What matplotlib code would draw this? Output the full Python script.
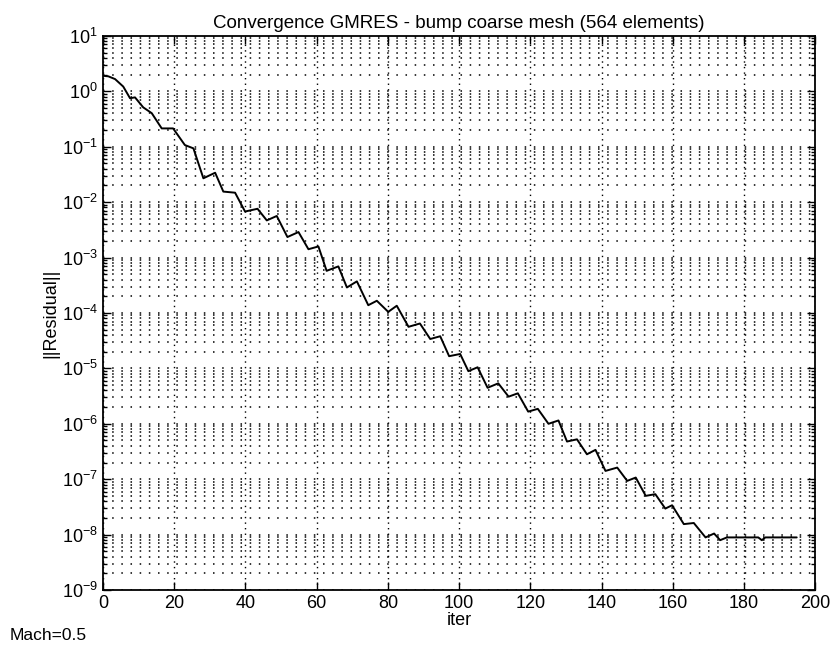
import numpy as np
import matplotlib
matplotlib.use("Agg")
import matplotlib.pyplot as plt
from matplotlib.ticker import LogLocator, FixedLocator, NullFormatter

plt.rcParams['font.family'] = ['Liberation Sans', 'DejaVu Sans']
plt.rcParams['mathtext.fontset'] = 'custom'
plt.rcParams['mathtext.rm'] = 'Liberation Sans'
plt.rcParams['mathtext.it'] = 'Liberation Sans'

# iteration number and log10(||residual||)
iters = [0, 1.5, 3.4, 5.7, 7.6, 9, 11.3, 13.7, 16.5, 19.7, 23, 25.4, 28.2, 31.5,
         33.8, 37.1, 39.9, 43.4, 46, 48.8, 51.8, 54.9, 57.7, 60.5, 62.8, 66.1,
         68.5, 71.3, 74.5, 76.9, 80.1, 82.5, 85.8, 89.0, 91.9, 94.7, 97.2, 100.3,
         102.6, 105.2, 108.0, 111, 113.9, 116.5, 119.4, 122.1, 125.1, 127.9, 130.3,
         133.1, 135.9, 138.3, 141.1, 144.4, 147.2, 149.6, 152.4, 155.1, 157.9,
         159.8, 163.1, 165.9, 169.2, 171.6, 173.3, 175.2, 180, 184, 185, 186, 190, 194.8]
log_res = [0.28, 0.27, 0.22, 0.085, -0.125, -0.11, -0.29, -0.395, -0.67, -0.67,
           -0.97, -1.03, -1.57, -1.47, -1.81, -1.83, -2.17, -2.12, -2.33, -2.25,
           -2.63, -2.54, -2.85, -2.80, -3.24, -3.16, -3.54, -3.43, -3.86, -3.78,
           -3.98, -3.87, -4.25, -4.19, -4.47, -4.42, -4.78, -4.74, -5.05, -4.98,
           -5.35, -5.27, -5.51, -5.45, -5.78, -5.73, -6.00, -5.94, -6.32, -6.28,
           -6.55, -6.47, -6.85, -6.79, -7.03, -6.97, -7.30, -7.27, -7.53, -7.47,
           -7.81, -7.79, -8.05, -7.98, -8.10, -8.05, -8.05, -8.05, -8.10, -8.05,
           -8.05, -8.05]
residual = 10.0 ** np.array(log_res)

title = "Convergence GMRES - bump coarse mesh (564 elements)"

fig = plt.figure(figsize=(8.37, 6.52), dpi=100)
ax = fig.add_axes([0.123, 0.095, 0.851, 0.850])

ax.semilogy(iters, residual, color='black', lw=1.4,
            solid_joinstyle='round', solid_capstyle='round')

ax.set_xlim(0, 200)
ax.set_ylim(1e-9, 1e1)
ax.set_xticks(np.arange(0, 201, 20))
ax.yaxis.set_major_locator(FixedLocator(10.0 ** np.arange(-9, 2)))
ax.yaxis.set_minor_locator(LogLocator(base=10, subs=np.arange(2, 10), numticks=50))
ax.yaxis.set_minor_formatter(NullFormatter())

dots = (0, (1, 5))
ax.grid(True, which='major', axis='x', color='black', lw=1.0, linestyle=(0, (1, 3)))
ax.grid(True, which='major', axis='y', color='black', lw=1.1, linestyle=dots)
ax.grid(True, which='minor', axis='y', color='black', lw=1.1, linestyle=dots)

ax.tick_params(which='both', direction='in', top=True, right=True,
               labelsize=13, width=1, color='black')
ax.tick_params(which='major', length=6)
ax.tick_params(which='minor', length=3)
for s in ax.spines.values():
    s.set_linewidth(1.3)

ax.set_title(title, fontsize=13.5, pad=6)
ax.set_xlabel("iter", fontsize=13, labelpad=0)
ax.set_ylabel("||Residual||", fontsize=13, labelpad=2)
fig.text(0.012, 0.018, "Mach=0.5", fontsize=12.5)

fig.savefig("out.png", dpi=100)
